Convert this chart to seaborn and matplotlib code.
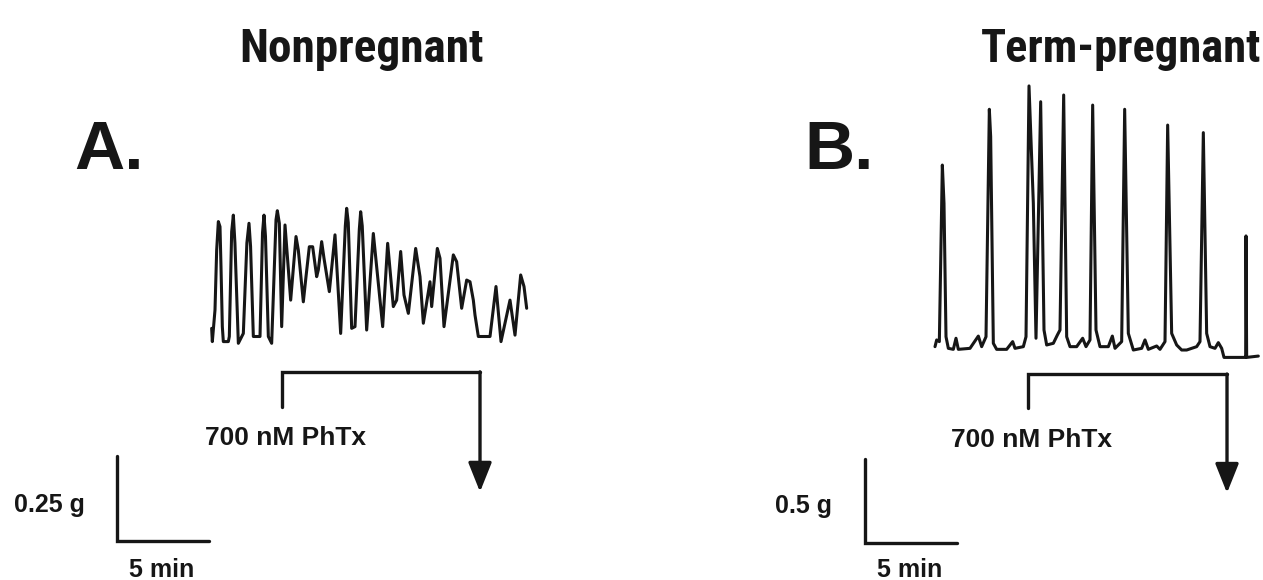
import numpy as np
import pandas as pd
import matplotlib
matplotlib.use("Agg")
import matplotlib.pyplot as plt
import seaborn as sns

# ---- data (time in min, force in g) ----
np_time = [0.036, 0.072, 0.217, 0.308, 0.399, 0.489, 0.543, 0.616, 0.670, 0.942,
           0.996, 1.123, 1.214, 1.300, 1.486, 1.757, 1.950, 2.065, 2.150, 2.301,
           2.663, 2.800, 2.880, 2.960, 3.116, 3.297, 3.533, 3.605, 3.714,
           3.841, 4.022, 4.330, 4.620, 4.746, 5.018, 5.163, 5.344, 5.525, 5.743,
           5.833, 6.014, 6.141, 6.431, 6.739, 7.047, 7.300, 7.373, 7.460, 7.645,
           7.826, 8.060, 8.134, 8.220,
           8.460, 8.822, 9.330, 9.601, 9.909, 10.09, 10.308, 10.489, 10.725, 11.123,
           11.359, 11.540, 11.902, 11.993, 12.301, 12.446, 12.663, 13.170, 13.351, 13.623,
           13.895, 14.076, 14.257, 14.348, 14.529, 15.163, 15.489, 15.761, 16.250, 16.522,
           16.830, 17.011, 17.156]
np_force = [0.049, 0.010, 0.103, 0.279, 0.363, 0.348, 0.230, 0.054, 0.010, 0.010,
            0.025, 0.333, 0.382, 0.300, 0.005, 0.034, 0.300, 0.358, 0.290, 0.025,
            0.025, 0.330, 0.382, 0.320, 0.025, 0.005, 0.368, 0.395, 0.358,
            0.054, 0.353, 0.132, 0.319, 0.279, 0.127, 0.201, 0.289, 0.289, 0.201,
            0.221, 0.304, 0.255, 0.157, 0.324, 0.034, 0.350, 0.402, 0.360, 0.049,
            0.054, 0.340, 0.392, 0.350,
            0.044, 0.328, 0.054, 0.299, 0.113, 0.132, 0.275, 0.147, 0.093, 0.284,
            0.201, 0.064, 0.186, 0.113, 0.284, 0.255, 0.054, 0.265, 0.245, 0.108,
            0.191, 0.186, 0.132, 0.088, 0.025, 0.025, 0.172, 0.010, 0.132, 0.029,
            0.206, 0.172, 0.108]

tp_time = [0.000, 0.091, 0.236, 0.399, 0.489, 0.598, 0.725, 0.996, 1.141, 1.268,
           1.902, 2.355, 2.536, 2.772, 2.953, 3.025, 3.170, 3.351, 3.895, 4.221,
           4.348, 4.801, 4.946, 5.109, 5.344, 5.489, 5.743, 5.924, 6.069, 6.431,
           6.649, 6.793, 6.993, 7.156, 7.337, 7.699, 8.025, 8.207, 8.424, 8.569,
           8.750, 8.967, 9.420, 9.638, 9.783, 10.145, 10.308, 10.507, 10.779, 11.232,
           11.413, 11.594, 12.047, 12.228, 12.500, 12.645, 12.862, 13.134, 13.406, 13.678,
           14.221, 14.402, 14.583, 14.764, 14.946, 15.217, 15.399, 15.580, 15.707, 16.848,
           16.884, 16.902, 16.938, 17.572]
tp_force = [0.008, 0.048, 0.038, 1.089, 0.861, 0.067, -0.002, -0.008, 0.058, -0.008,
            -0.002, 0.071, 0.008, 0.067, 1.421, 1.258, 0.028, -0.008, -0.008, 0.038,
            -0.002, 0.008, 0.067, 1.560, 0.861, 0.058, 1.466, 0.107, 0.018, 0.028,
            0.077, 0.107, 1.506, 0.067, 0.008, 0.008, 0.058, 0.008, 0.048, 1.446,
            0.107, 0.008, 0.008, 0.071, -0.002, 0.038, 1.421, 0.087, -0.012, -0.002,
            0.048, -0.008, 0.012, -0.008, 0.038, 1.327, 0.087, 0.018, -0.012, -0.012,
            0.008, 0.038, 1.282, 0.087, 0.008, -0.002, 0.032, -0.002, -0.056, -0.056,
            -0.056, 0.667, -0.056, -0.048]

# PhTx application bracket (start, end in min), scale bars
np_phtx = (3.86, 14.62)
tp_phtx = (5.05, 15.87)
np_bar_g = 0.25
tp_bar_g = 0.5
bar_min = 5

W, H, DPI = 1263, 580, 100
INK = "#161616"

sns.set_theme(style="white")
plt.rcParams["font.family"] = ["Liberation Sans", "DejaVu Sans"]

fig = plt.figure(figsize=(W / DPI, H / DPI), dpi=DPI)
fig.patch.set_facecolor("white")


def place(ax, left_px, right_px, x0_px, y0_px, px_per_min, px_per_g):
    # map data (0 min, 0 g) to figure pixel (x0_px, y0_px), y pixels from top
    ax.set_xlim((left_px - x0_px) / px_per_min, (right_px - x0_px) / px_per_min)
    ax.set_ylim((y0_px - H) / px_per_g, y0_px / px_per_g)
    ax.axis("off")


def panel(ax, t, f, phtx, bar_g, bracket_y, tip_y, label_y, bar_xy, glabel_xy, mlabel_xy):
    df = pd.DataFrame({"t": t, "f": f})
    sns.lineplot(data=df, x="t", y="f", ax=ax, color=INK, lw=2.2,
                 sort=False, estimator=None)
    b0, b1 = bracket_y
    ax.plot([phtx[0], phtx[0], phtx[1]], [b0, b1, b1], color=INK, lw=2.4,
            solid_joinstyle="miter", clip_on=False)
    ax.annotate("", xy=(phtx[1], tip_y), xytext=(phtx[1], b1),
                arrowprops=dict(arrowstyle="-|>,head_length=1.8,head_width=0.72",
                                mutation_scale=10, lw=2.4, color=INK,
                                shrinkA=0, shrinkB=0))
    ax.text(phtx[0] + 0.2, label_y, "700 nM PhTx", ha="center", va="center",
            fontsize=19, fontweight="bold", color=INK)
    bx, by = bar_xy
    ax.plot([bx, bx, bx + bar_min], [by + bar_g, by, by], color=INK, lw=2.4,
            solid_joinstyle="miter", clip_on=False)
    ax.text(*glabel_xy, f"{bar_g:g} g", ha="center", va="center",
            fontsize=18, fontweight="bold", color=INK)
    ax.text(*mlabel_xy, f"{bar_min} min", ha="center", va="center",
            fontsize=18, fontweight="bold", color=INK)


ax_a = fig.add_axes([0, 0, 0.5, 1])
place(ax_a, 0, W / 2, 211, 345, 18.4, 340)
panel(ax_a, np_time, np_force, np_phtx, np_bar_g,
      bracket_y=(-0.182, -0.079), tip_y=-0.432, label_y=-0.274,
      bar_xy=(-5.11, -0.576), glabel_xy=(-8.78, -0.471), mlabel_xy=(-2.66, -0.662))

ax_b = fig.add_axes([0.5, 0, 0.5, 1])
place(ax_b, W / 2, W, 935, 348, 18.4, 168)
panel(ax_b, tp_time, tp_force, tp_phtx, tp_bar_g,
      bracket_y=(-0.357, -0.155), tip_y=-0.863, label_y=-0.548,
      bar_xy=(-3.80, -1.161), glabel_xy=(-7.15, -0.940), mlabel_xy=(-1.36, -1.321))

title_font = ["Roboto Condensed", "DejaVu Sans"]
fig.text(361 / W, 1 - 62 / H, "Nonpregnant", ha="center", va="baseline",
         fontsize=34, fontweight="bold", family=title_font, color=INK)
fig.text(1121 / W, 1 - 62 / H, "Term-pregnant", ha="center", va="baseline",
         fontsize=33.5, fontweight="bold", family=title_font, color=INK)
fig.text(74 / W, 1 - 169 / H, "A.", ha="left", va="baseline",
         fontsize=50, fontweight="bold", color=INK)
fig.text(804 / W, 1 - 169 / H, "B.", ha="left", va="baseline",
         fontsize=50, fontweight="bold", color=INK)

fig.savefig("out.png", dpi=DPI, facecolor="white")
